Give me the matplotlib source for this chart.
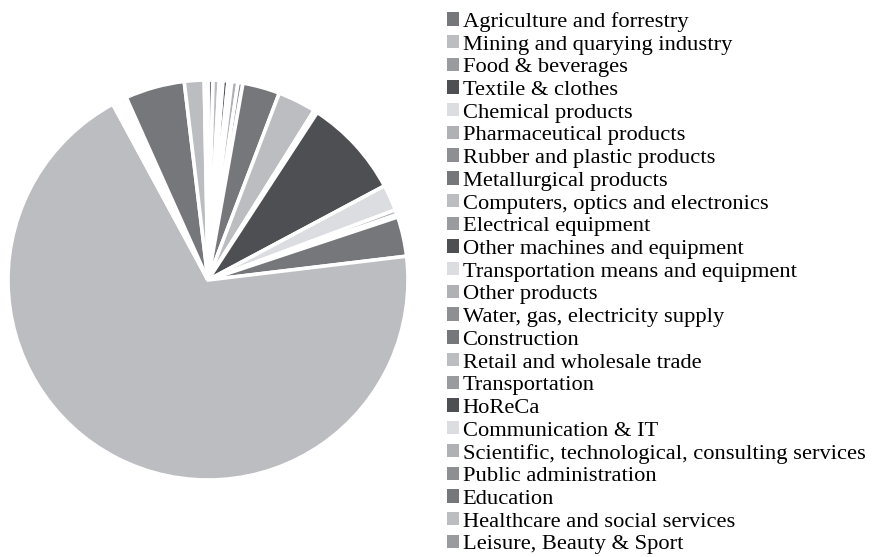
import matplotlib
matplotlib.use('Agg')
import matplotlib.pyplot as plt
from matplotlib.patches import Patch

# sectors (legend order) and share of total, %
sectors = [
    "Agriculture and forrestry",
    "Mining and quarying industry",
    "Food & beverages",
    "Textile & clothes",
    "Chemical products",
    "Pharmaceutical products",
    "Rubber and plastic products",
    "Metallurgical products",
    "Computers, optics and electronics",
    "Electrical equipment",
    "Other machines and equipment",
    "Transportation means and equipment",
    "Other products",
    "Water, gas, electricity supply",
    "Construction",
    "Retail and wholesale trade",
    "Transportation",
    "HoReCa",
    "Communication & IT",
    "Scientific, technological, consulting services",
    "Public administration",
    "Education",
    "Healthcare and social services",
    "Leisure, Beauty & Sport",
]
shares = [0.4, 0.5, 0.3, 0.4, 0.3, 0.5, 0.4, 3.0, 3.1, 0.3, 8.0, 2.1,
          0.4, 0.2, 3.2, 69.0, 0.3, 0.2, 0.2, 0.3, 0.2, 4.8, 1.6, 0.3]

# grey palette repeating every 7 sectors
greys = ['#76777b', '#bcbdc1', '#9a9b9f', '#4e4f53', '#dcdde0', '#b0b1b5', '#8e8f93']
colors = [greys[i % len(greys)] for i in range(len(sectors))]

fig = plt.figure(figsize=(8.73, 5.57), dpi=100)
ax = fig.add_axes([8 / 873, 77 / 557, 400 / 873, 400 / 557])
ax.pie(shares, colors=colors, startangle=90, counterclock=False,
       wedgeprops=dict(edgecolor='white', linewidth=2.6))
ax.set_xlim(-1, 1)
ax.set_ylim(-1, 1)
ax.set_aspect('equal')
ax.axis('off')
for w in ax.patches:
    w.set_clip_on(False)

handles = [Patch(facecolor=c, edgecolor='none') for c in colors]
fig.legend(handles, sectors, loc='upper left', bbox_to_anchor=(447 / 873, 1 - 12 / 557),
           frameon=False, prop={'family': 'Liberation Serif', 'size': 16.2},
           handlelength=0.54, handleheight=0.54, handletextpad=0.15,
           labelspacing=0.135, borderpad=0, borderaxespad=0)

plt.savefig('out.png', dpi=100)
plt.close()
